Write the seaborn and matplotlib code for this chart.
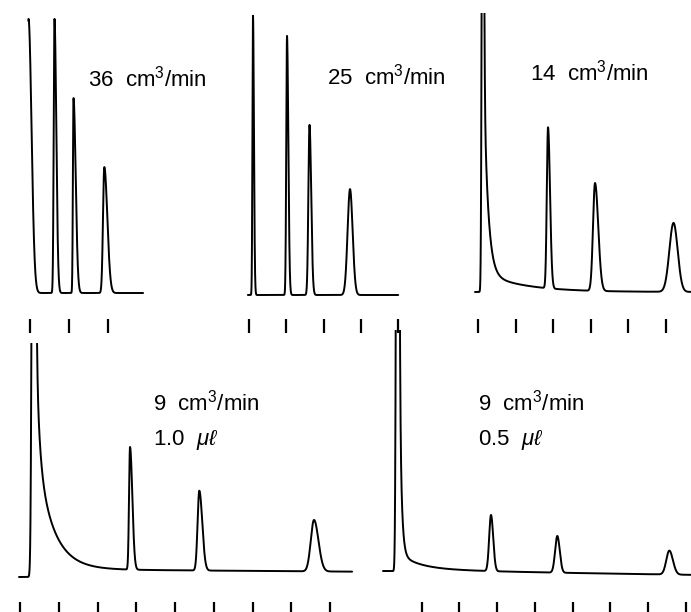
import numpy as np
import matplotlib
matplotlib.use("Agg")
import matplotlib.pyplot as plt
import seaborn as sns

# ---------------- data ----------------
# flow rate labels and injected volume labels
flow_labels = ["36", "25", "14", "9", "9"]
volume_labels = [None, None, None, "1.0", "0.5"]

# peak retention (chart-tick units), heights (signal units), left / right widths
p36_t = [-0.038, 0.628, 1.115, 1.905]
p36_h = [98.6, 98.6, 70.1, 45.3]
p36_sl = [0.008, 0.020, 0.015, 0.033]
p36_sr = [0.077, 0.046, 0.056, 0.077]
p36_tail_a, p36_tail_tau = [], []
p36_range = [-0.039, 2.90]
p36_ticks = [0, 1, 2]

p25_t = [0.107, 1.019, 1.622, 2.708]
p25_h = [100.7, 93.2, 61.2, 38.1]
p25_sl = [0.015, 0.020, 0.030, 0.065]
p25_sr = [0.025, 0.035, 0.045, 0.070]
p25_tail_a, p25_tail_tau = [], []
p25_range = [-0.03, 4.00]
p25_ticks = [0, 1, 2, 3, 4]

p14_t = [0.120, 1.862, 3.112, 5.200]
p14_h = [200.0, 57.9, 38.8, 24.8]
p14_sl = [0.021, 0.032, 0.053, 0.110]
p14_sr = [0.027, 0.053, 0.085, 0.110]
p14_tail_a, p14_tail_tau = [100.7, 6.9], [0.106, 1.064]
p14_range = [-0.08, 5.66]
p14_ticks = [0, 1, 2, 3, 4, 5]

p9a_t = [0.340, 2.839, 4.627, 7.587]
p9a_h = [260.0, 44.1, 28.7, 18.5]
p9a_sl = [0.031, 0.025, 0.044, 0.083]
p9a_sr = [0.040, 0.059, 0.076, 0.114]
p9a_tail_a, p9a_tail_tau = [106.0, 52.2, 2.88], [0.077, 0.413, 20.6]
p9a_range = [-0.026, 8.57]
p9a_ticks = [0, 1, 2, 3, 4, 5, 6, 7, 8]

p9b_t = [0.353, 2.838, 4.597, 7.568]
p9b_h = [300.0, 20.2, 13.2, 8.6]
p9b_sl = [0.027, 0.048, 0.058, 0.080]
p9b_sr = [0.032, 0.058, 0.064, 0.095]
p9b_tail_a, p9b_tail_tau = [236.0, 5.9, 1.08], [0.049, 0.504, 2.65]
p9b_range = [-0.027, 8.14]
p9b_ticks = [1, 2, 3, 4, 5, 6, 7, 8]

drifts = [0.0, 0.0, 0.0, 0.0, -0.176]

# ---------------- layout (pixels) ----------------
W, H = 691, 612
SCALE = 2.78  # px per signal unit
# (x_left, x_right, tick0_px, px_per_tick, baseline_px, top_px, tickrow_bottom_px)
layout = [
    (0, 230, 30, 39.0, 293, 17, 333),
    (230, 460, 249, 37.3, 295, 15, 333),
    (460, 691, 478, 37.6, 292, 13, 333),
    (0, 360, 20, 38.75, 577, 343, 616),
    (360, 691, 384, 37.7, 571, 330, 616),
]
flow_pos = [(88, 87), (327, 85), (530, 81), (153, 410), (478, 410)]
vol_pos = [None, None, None, (153, 445), (478, 445)]

panels = [
    (p36_t, p36_h, p36_sl, p36_sr, p36_tail_a, p36_tail_tau, p36_range, p36_ticks),
    (p25_t, p25_h, p25_sl, p25_sr, p25_tail_a, p25_tail_tau, p25_range, p25_ticks),
    (p14_t, p14_h, p14_sl, p14_sr, p14_tail_a, p14_tail_tau, p14_range, p14_ticks),
    (p9a_t, p9a_h, p9a_sl, p9a_sr, p9a_tail_a, p9a_tail_tau, p9a_range, p9a_ticks),
    (p9b_t, p9b_h, p9b_sl, p9b_sr, p9b_tail_a, p9b_tail_tau, p9b_range, p9b_ticks),
]


def trace(t, pt, ph, psl, psr, ta, ttau, drift):
    y = drift * (t - t[0])
    for c, h, sl, sr in zip(pt, ph, psl, psr):
        s = np.where(t < c, sl, sr)
        y = y + h * np.exp(-0.5 * ((t - c) / s) ** 2)
    for a, tau in zip(ta, ttau):
        y = y + np.where(t > pt[0], a * np.exp(-(t - pt[0]) / tau), 0.0)
    return y


sns.set_style("white")
plt.rcParams["font.family"] = ["Liberation Sans", "DejaVu Sans"]
plt.rcParams["mathtext.fontset"] = "custom"
plt.rcParams["mathtext.rm"] = "Liberation Sans"
plt.rcParams["mathtext.it"] = "Liberation Sans:italic"
plt.rcParams["mathtext.fallback"] = "stix"

fig = plt.figure(figsize=(W / 100, H / 100), dpi=100)
fig.patch.set_facecolor("white")

for i, (pdata, lay) in enumerate(zip(panels, layout)):
    pt, ph, psl, psr, ta, ttau, prange, pticks = pdata
    xl, xr, t0, ppu, base, top, tb = lay
    ax = fig.add_axes([xl / W, 1 - tb / H, (xr - xl) / W, (tb - top) / H])
    ax.set_facecolor("none")
    t = np.linspace(prange[0], prange[1], 5000)
    y = trace(t, pt, ph, psl, psr, ta, ttau, drifts[i])
    sns.lineplot(x=t, y=y, ax=ax, color="black", linewidth=1.4,
                 estimator=None, sort=False)
    ax.set_xlim((xl - t0) / ppu, (xr - t0) / ppu)
    ax.set_ylim((base - tb) / SCALE, (base - top) / SCALE)
    ax.set_xticks(pticks)
    ax.set_yticks([])
    ax.set_xlabel("")
    ax.set_ylabel("")
    for sp in ax.spines.values():
        sp.set_visible(False)
    ax.tick_params(axis="x", bottom=True, direction="in", length=10,
                   width=1.6, color="black", labelbottom=False)

    fx, fy = flow_pos[i]
    fig.text(fx / W, 1 - fy / H, flow_labels[i] + r"  cm$^3$/min", fontsize=16,
             ha="left", va="baseline", color="black")
    if volume_labels[i] is not None:
        vx, vy = vol_pos[i]
        fig.text(vx / W, 1 - vy / H, volume_labels[i] + r"  $\mu\ell$",
                 fontsize=16, ha="left", va="baseline", color="black")

fig.savefig("out.png", dpi=100, facecolor="white")
